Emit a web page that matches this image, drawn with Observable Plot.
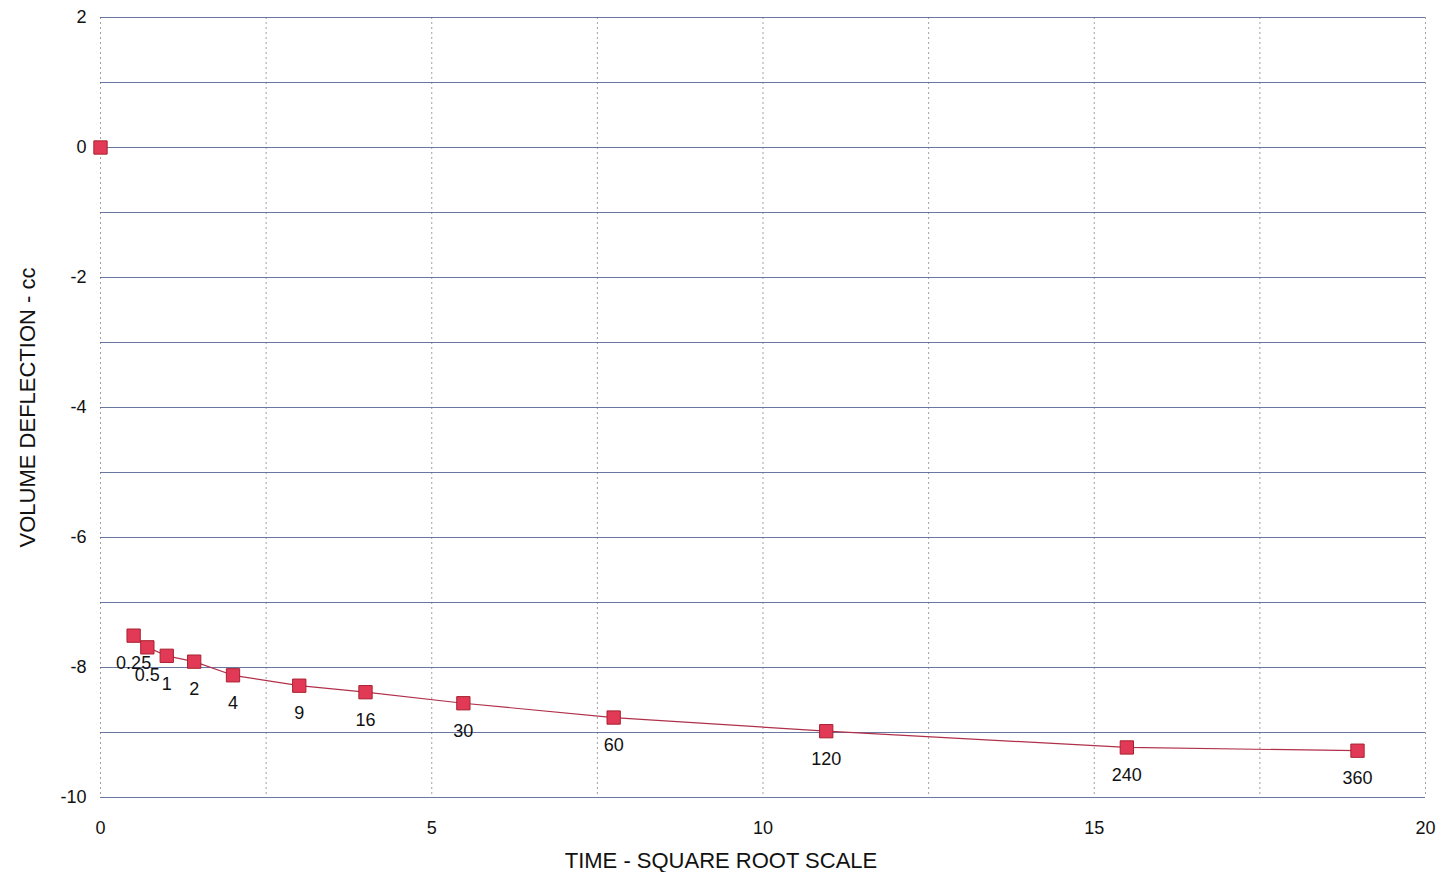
<!DOCTYPE html>
<html>
<head>
<meta charset="utf-8">
<script src="https://cdn.jsdelivr.net/npm/d3@7"></script>
<script src="https://cdn.jsdelivr.net/npm/@observablehq/plot@0.6"></script>
<style>
  html, body { margin: 0; padding: 0; background: #fff; }
  #chart svg { display: block; }
</style>
</head>
<body>
<div id="chart"></div>
<script>
// Elapsed time (minutes) and volume deflection (cc)
const times = [0, 0.25, 0.5, 1, 2, 4, 9, 16, 30, 60, 120, 240, 360];
const deflection = [0, -7.51, -7.69, -7.82, -7.91, -8.12, -8.28, -8.38, -8.55, -8.77, -8.98, -9.23, -9.28];
const timeLabels = ["", "0.25", "0.5", "1", "2", "4", "9", "16", "30", "60", "120", "240", "360"];
const xTicks = [0, 5, 10, 15, 20];
const xGrid = [0, 2.5, 5, 7.5, 10, 12.5, 15, 17.5, 20];
const yTicks = [2, 0, -2, -4, -6, -8, -10];
const yGrid = [2, 1, 0, -1, -2, -3, -4, -5, -6, -7, -8, -9, -10];

const data = times.map((t, i) => ({ t, x: Math.sqrt(t), y: deflection[i], label: timeLabels[i] }));
const curve = data.filter(d => d.t > 0);

const chart = Plot.plot({
  width: 1444,
  height: 872,
  marginLeft: 100,
  marginRight: 19,
  marginTop: 17,
  marginBottom: 75,
  style: { fontFamily: "Liberation Sans, Arial, sans-serif", background: "#fff" },
  x: { domain: [0, 20] },
  y: { domain: [-10, 2] },
  marks: [
    Plot.ruleX(xGrid, { stroke: "#8a8a8a", strokeWidth: 1, strokeDasharray: "2,3", strokeOpacity: 0.8 }),
    Plot.ruleY(yGrid, { stroke: "#4f5f90", strokeWidth: 1.2, strokeOpacity: 0.85 }),
    Plot.axisX(xTicks, { tickSize: 0, tickPadding: 24, fontSize: 18, label: null, color: "#111", tickFormat: d => String(d) }),
    Plot.axisY(yTicks, { tickSize: 0, tickPadding: 14, fontSize: 18, label: null, color: "#111", tickFormat: d => String(d) }),
    Plot.text(["TIME - SQUARE ROOT SCALE"], { frameAnchor: "bottom", dy: 70, dx: -42, fontSize: 22, fill: "#111" }),
    Plot.text(["VOLUME DEFLECTION - cc"], { frameAnchor: "left", dx: -73, rotate: -90, textAnchor: "middle", fontSize: 22, fill: "#111" }),
    Plot.line(curve, { x: "x", y: "y", stroke: "#b0304a", strokeWidth: 1.2 }),
    Plot.dot(data, { x: "x", y: "y", symbol: "square", r: 7.5, fill: "#e23a56", stroke: "#a8202f", strokeWidth: 1 }),
    Plot.text(data, { x: "x", y: "y", text: "label", dy: 28, fontSize: 18, fill: "#111" })
  ]
});
document.getElementById("chart").appendChild(chart);
</script>
</body>
</html>
